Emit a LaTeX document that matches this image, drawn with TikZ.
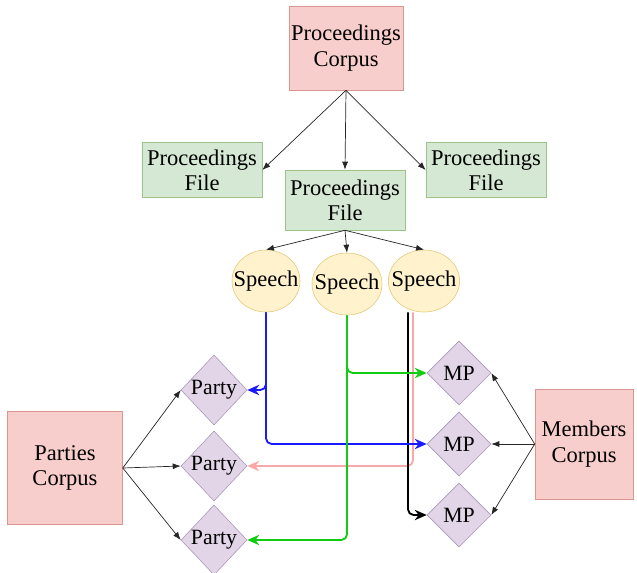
\documentclass[tikz,border=0pt]{standalone}
\usepackage{fontspec}
\setmainfont{Liberation Serif}
\usetikzlibrary{shapes.geometric,arrows.meta}
\definecolor{corpusfill}{HTML}{F8CECC}
\definecolor{corpusline}{HTML}{D99590}
\definecolor{filefill}{HTML}{D5E8D4}
\definecolor{fileline}{HTML}{9CC48A}
\definecolor{speechfill}{HTML}{FFF2CC}
\definecolor{speechline}{HTML}{E0C878}
\definecolor{entityfill}{HTML}{E1D5E7}
\definecolor{entityline}{HTML}{A996B8}
\definecolor{flowblue}{HTML}{1A1AFF}
\definecolor{flowgreen}{HTML}{11CC11}
\definecolor{flowpink}{HTML}{F8A8A8}
\newcommand{\nowidth}[1]{\makebox[0pt]{#1}}
\begin{document}
\begin{tikzpicture}
  [
  x=0.025cm,y=-0.025cm,
  every node/.style={font=\fontsize{16}{18}\selectfont},
  corpus/.style={rectangle,draw=corpusline,fill=corpusfill,align=center,inner sep=0pt},
  file/.style={rectangle,draw=fileline,fill=filefill,align=center,inner sep=0pt,minimum width=3cm},
  speech/.style={ellipse,draw=speechline,fill=speechfill,inner sep=0pt,minimum width=1.7cm,minimum height=1.55cm},
  entity/.style={diamond,draw=entityline,fill=entityfill,inner sep=0pt,minimum width=1.65cm,minimum height=1.75cm,font=\fontsize{15.5}{18}\selectfont},
  link/.style={-{Latex[length=2mm,width=1.5mm]},black!85,line width=0.5pt},
  flow/.style={-{Stealth[length=3mm,width=2.6mm]},line width=1.3pt,rounded corners=4pt}
  ]
  \useasboundingbox (0,0) rectangle (637,572);

  \node (pcorpus) at (346,48) [corpus,minimum width=2.85cm,minimum height=2.1cm] {Proceedings\\Corpus};
  \node (pfile1) at (202,170) [file,minimum height=1.375cm] {Proceedings\\File};
  \node (pfile2) at (345,200) [file,minimum height=1.5cm] {Proceedings\\File};
  \node (pfile3) at (486,170) [file,minimum height=1.375cm] {Proceedings\\File};

  \node (speech1) at (266,281) [speech] {\nowidth{Speech}};
  \node (speech2) at (347,284) [speech,minimum width=1.75cm] {\nowidth{Speech}};
  \node (speech3) at (424,281) [speech,minimum width=1.78cm] {\nowidth{Speech}};

  \node (party1) at (214,390) [entity] {\nowidth{Party}};
  \node (party2) at (214,466) [entity] {\nowidth{Party}};
  \node (party3) at (214,540) [entity] {\nowidth{Party}};
  \node (mp1) at (459,373) [entity,minimum width=1.6cm,minimum height=1.6cm] {\nowidth{MP}};
  \node (mp2) at (459,444) [entity,minimum width=1.6cm,minimum height=1.6cm] {\nowidth{MP}};
  \node (mp3) at (459,515) [entity,minimum width=1.6cm,minimum height=1.6cm] {\nowidth{MP}};

  \node (parties) at (65,468) [corpus,minimum width=2.875cm,minimum height=2.825cm] {Parties\\Corpus};
  \node (members) at (584,444) [corpus,minimum width=2.45cm,minimum height=2.75cm] {Members\\Corpus};

  \draw [link] (pcorpus.south) to (pfile1.east);
  \draw [link] (pcorpus.south) to (pfile2.north);
  \draw [link] (pcorpus.south) to (pfile3.west);
  \draw [link] (pfile2.south) to (speech1.north);
  \draw [link] (pfile2.south) to (speech2.north);
  \draw [link] (pfile2.south) to (speech3.north);

  \draw [link] (parties.east) to (party1.west);
  \draw [link] (parties.east) to (party2.west);
  \draw [link] (parties.east) to (party3.west);
  \draw [link] (members.west) to (mp1.east);
  \draw [link] (members.west) to (mp2.east);
  \draw [link] (members.west) to (mp3.east);

  \draw [flow,flowpink] ([xshift=-0.275cm]speech3.south) |- (party2.east);
  \draw [flow,black] ([xshift=-0.4cm]speech3.south) |- (mp3.west);
  \draw [flow,flowblue] (speech1.south) |- (mp2.west);
  \draw [flow,flowblue] (speech1.south) |- (party1.east);
  \draw [flow,flowgreen] (speech2.south) |- (mp1.west);
  \draw [flow,flowgreen] (speech2.south) |- (party3.east);
\end{tikzpicture}
\end{document}
